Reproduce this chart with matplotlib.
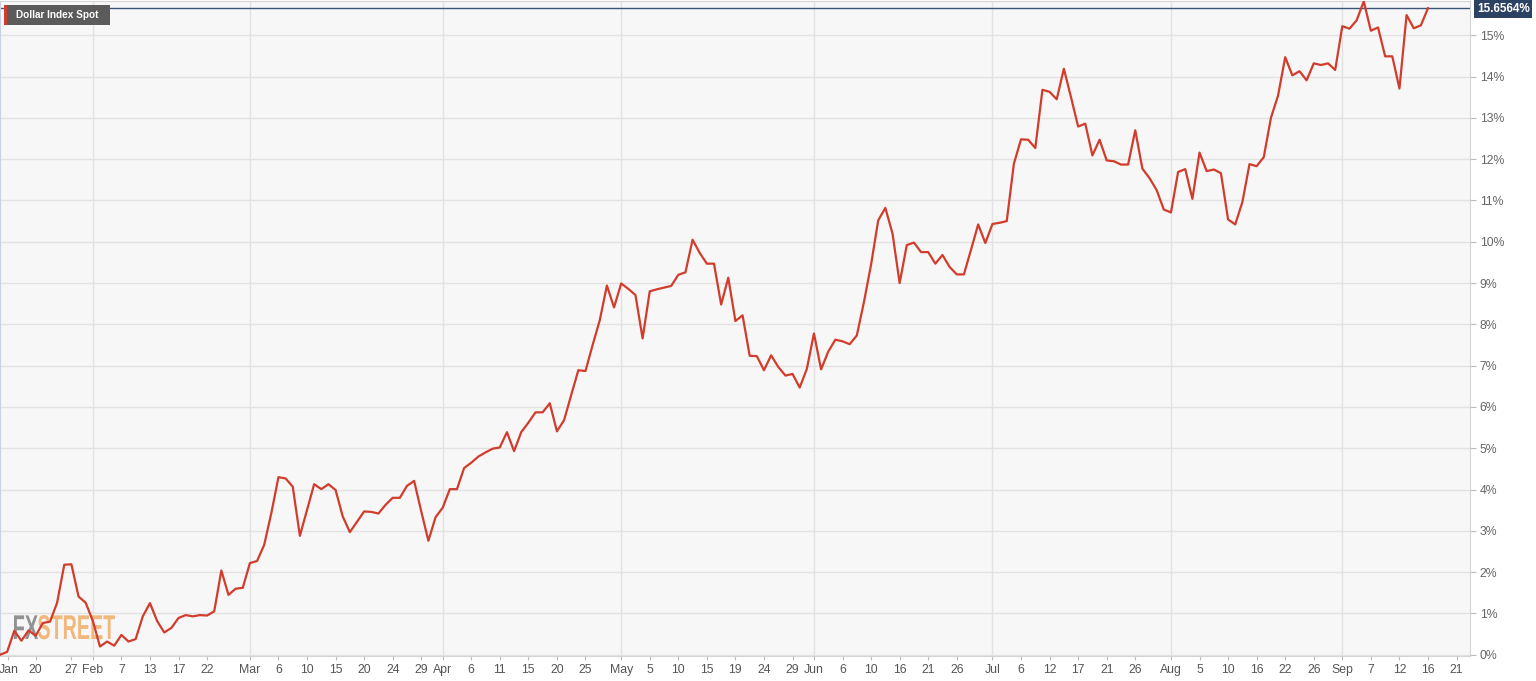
import matplotlib
matplotlib.use("Agg")
import matplotlib.pyplot as plt
import matplotlib.transforms as mtransforms
from matplotlib.patches import PathPatch, Rectangle
from matplotlib.textpath import TextPath
from matplotlib.font_manager import FontProperties

plt.rcParams['font.family'] = ['Liberation Sans', 'DejaVu Sans']

# Dollar Index Spot, % change since start (one value per trading day)
pct_change = [
    0.00, 0.07, 0.58, 0.34, 0.59, 0.46, 0.77, 0.80, 1.26, 2.18,
    2.19, 1.41, 1.26, 0.82, 0.20, 0.32, 0.22, 0.48, 0.32, 0.38,
    0.93, 1.25, 0.82, 0.54, 0.65, 0.89, 0.96, 0.93, 0.96, 0.95,
    1.05, 2.04, 1.45, 1.60, 1.62, 2.22, 2.27, 2.66, 3.43, 4.30,
    4.27, 4.07, 2.88, 3.51, 4.13, 4.01, 4.13, 3.99, 3.35, 2.97,
    3.22, 3.47, 3.46, 3.42, 3.63, 3.80, 3.80, 4.09, 4.21, 3.47,
    2.76, 3.33, 3.56, 4.01, 4.01, 4.52, 4.65, 4.80, 4.90, 4.99,
    5.02, 5.39, 4.93, 5.39, 5.62, 5.87, 5.87, 6.09, 5.41, 5.68,
    6.29, 6.89, 6.87, 7.50, 8.10, 8.94, 8.41, 8.99, 8.86, 8.71,
    7.66, 8.80, 8.85, 8.89, 8.93, 9.20, 9.26, 10.05, 9.73, 9.47,
    9.47, 8.48, 9.13, 8.08, 8.22, 7.24, 7.23, 6.89, 7.25, 6.97,
    6.76, 6.80, 6.47, 6.92, 7.78, 6.91, 7.34, 7.63, 7.59, 7.52,
    7.73, 8.54, 9.45, 10.52, 10.82, 10.20, 9.00, 9.92, 9.98, 9.75,
    9.75, 9.47, 9.68, 9.39, 9.21, 9.21, 9.81, 10.42, 9.97, 10.43,
    10.46, 10.50, 11.89, 12.48, 12.47, 12.27, 13.68, 13.63, 13.45, 14.19,
    13.50, 12.79, 12.86, 12.09, 12.47, 11.97, 11.95, 11.87, 11.87, 12.70,
    11.77, 11.54, 11.25, 10.78, 10.71, 11.69, 11.76, 11.04, 12.16, 11.71,
    11.75, 11.66, 10.54, 10.42, 10.96, 11.88, 11.83, 12.05, 13.00, 13.54,
    14.47, 14.03, 14.13, 13.91, 14.32, 14.28, 14.32, 14.16, 15.22, 15.16,
    15.36, 15.82, 15.11, 15.19, 14.49, 14.49, 13.71, 15.49, 15.17, 15.24,
    15.6564,
]
last_value = 15.6564

# x ticks (trading-day index) and their labels
tick_pos = [1.15, 5, 10, 13, 17, 21, 25, 29, 35, 39, 43, 47, 51, 55, 59,
            62, 66, 70, 74, 78, 82, 87, 91, 95, 99, 103, 107, 111,
            114, 118, 122, 126, 130, 134, 139, 143, 147, 151, 155, 159,
            164, 168, 172, 176, 180, 184, 188, 192, 196, 200, 204]
tick_labels = ["Jan", "20", "27", "Feb", "7", "13", "17", "22", "Mar", "6", "10", "15", "20", "24", "29",
               "Apr", "6", "11", "15", "20", "25", "May", "5", "10", "15", "19", "24", "29",
               "Jun", "6", "10", "16", "21", "26", "Jul", "6", "12", "17", "21", "26",
               "Aug", "5", "10", "16", "22", "26", "Sep", "7", "12", "16", "21"]
month_pos = [13, 35, 62, 87, 114, 139, 164, 188]
y_ticks = list(range(0, 16))

W, H = 1536, 681
fig = plt.figure(figsize=(W / 100, H / 100), dpi=100)
ax = fig.add_axes([0 / W, (H - 656) / H, 1470 / W, 655 / H])
ax.set_facecolor("#f7f7f7")

ax.plot(range(len(pct_change)), pct_change, color="#d13c2c", lw=1.6, zorder=3)
ax.axhline(last_value, color="#3b5578", lw=1.0, zorder=2)

ax.set_xlim(0, 1470 / 7.14)
ax.set_ylim(-0.03, 15.83)

ax.set_xticks(tick_pos)
ax.set_xticklabels(tick_labels)
ax.set_yticks(y_ticks)
ax.set_yticklabels([f"{v}%" for v in y_ticks])
ax.yaxis.tick_right()
ax.tick_params(axis="x", length=3, color="#bbbbbb", labelsize=8.8, labelcolor="#555555", pad=3)
ax.tick_params(axis="y", length=4, color="#bbbbbb", labelsize=8.8, labelcolor="#666666", pad=3)

ax.grid(axis="y", color="#e2e2e2", lw=1, zorder=0)
for m in month_pos:
    ax.axvline(m, color="#e2e2e2", lw=1, zorder=0)

for side in ["top", "right", "bottom"]:
    ax.spines[side].set_color("#d4d4d4")
ax.spines["left"].set_color("#c8d2e4")

# FXSTREET watermark, stretched to the box of the original
def fig_px(x0, y0, sx, sy):
    return (mtransforms.Affine2D().scale(sx, sy).translate(x0, y0).scale(1 / W, 1 / H)
            + fig.transFigure)

fp = FontProperties(family="Liberation Sans", weight="bold")
p_fx = TextPath((0, 0), "FX", size=1, prop=fp)
p_st = TextPath((0, 0), "STREET", size=1, prop=fp)
cap = p_st.get_extents().y1
e_fx, e_st = p_fx.get_extents(), p_st.get_extents()
sy = 24 / cap
ax.add_patch(PathPatch(p_fx, transform=mtransforms.Affine2D().translate(-e_fx.x0, 0) + fig_px(14, 42, 24 / e_fx.width, sy),
                       fc="#929292", ec="none", zorder=1.5))
ax.add_patch(PathPatch(p_st, transform=mtransforms.Affine2D().translate(-e_st.x0, 0) + fig_px(38, 42, 77 / e_st.width, sy),
                       fc="#f2b77c", ec="none", zorder=1.5))

# series label box, top left
fig.add_artist(Rectangle((4 / W, (H - 25) / H), 106 / W, 20 / H, transform=fig.transFigure,
                         fc="#5b5b5b", ec="none", zorder=5))
fig.add_artist(Rectangle((4 / W, (H - 25) / H), 3 / W, 20 / H, transform=fig.transFigure,
                         fc="#d13c2c", ec="none", zorder=6))
fig.text(16 / W, (H - 15.5) / H, "Dollar Index Spot", color="white", fontsize=7.2,
         fontweight="bold", va="center", ha="left", zorder=7)

# last value tag on the right axis
fig.text(1477 / W, (H - 9) / H, f"{last_value}%", color="white", fontsize=8.5,
         fontweight="bold", va="center", ha="left", zorder=7,
         bbox=dict(boxstyle="square,pad=0.22", fc="#2c4262", ec="none"))

fig.savefig("out.png", dpi=100, facecolor="white")
